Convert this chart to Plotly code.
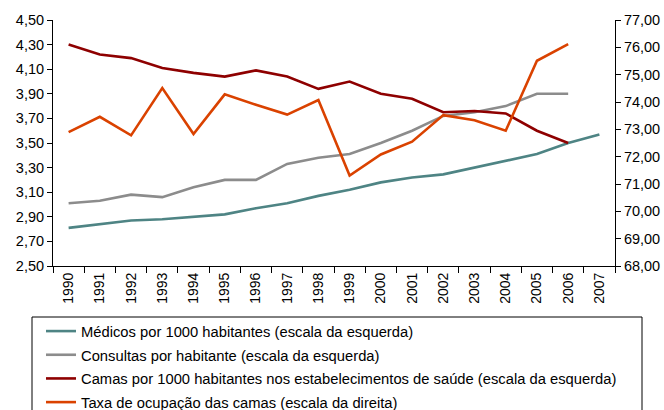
import plotly.graph_objects as go

years = [str(y) for y in range(1990, 2008)]
medicos = [2.81, 2.84, 2.87, 2.88, 2.90, 2.92, 2.97, 3.01, 3.07, 3.12, 3.18, 3.22, 3.245, 3.30, 3.35, 3.41, 3.50, 3.57]
consultas = [3.01, 3.03, 3.08, 3.06, 3.14, 3.20, 3.20, 3.33, 3.38, 3.41, 3.50, 3.60, 3.72, 3.75, 3.80, 3.90, 3.90, None]
camas = [4.30, 4.22, 4.19, 4.11, 4.07, 4.04, 4.09, 4.04, 3.94, 4.00, 3.90, 3.86, 3.75, 3.76, 3.74, 3.60, 3.50, None]
taxa = [72.90, 73.46, 72.78, 74.51, 72.83, 74.28, 73.90, 73.54, 74.07, 71.31, 72.08, 72.55, 73.52, 73.33, 72.95, 75.51, 76.12, None]

names = [
    "Médicos por 1000 habitantes (escala da esquerda)",
    "Consultas por habitante (escala da esquerda)",
    "Camas por 1000 habitantes nos estabelecimentos de saúde (escala da esquerda)",
    "Taxa de ocupação das camas (escala da direita)",
]
colors = ["#4E8484", "#8C8C8C", "#8E0000", "#DA4200"]

fig = go.Figure()
series = [(medicos, "y"), (consultas, "y"), (camas, "y"), (taxa, "y2")]
for i, (vals, ax) in enumerate(series):
    fig.add_trace(go.Scatter(
        x=years, y=vals, name=names[i], mode="lines", yaxis=ax,
        line=dict(color=colors[i], width=2.6), legendgroup=str(i),
    ))

fam = "Liberation Sans, Arial, sans-serif"
axfont = dict(family=fam, size=14.5, color="#000000")
xfont = dict(family=fam, size=14, color="#000000")
lgfont = dict(family=fam, size=14.75, color="#000000")

W, H = 664, 410
L, T = 53, 20
PW, PH = 562, 246
R, B = W - L - PW, H - T - PH
BOT = T + PH  # 266

fig.update_layout(
    width=W, height=H,
    margin=dict(l=L, r=R, t=T, b=B, autoexpand=False),
    paper_bgcolor="white", plot_bgcolor="white",
    font=axfont,
    separators=",.",
    showlegend=True,
    hovermode=False,
    legend=dict(
        x=(41 - L) / PW, y=-(315 - BOT) / PH, xanchor="left", yanchor="top",
        orientation="v", tracegroupgap=1.5, borderwidth=0,
        font=lgfont, bgcolor="rgba(0,0,0,0)",
    ),
    xaxis=dict(
        type="category", range=[-0.5, len(years) - 0.5],
        showgrid=False, showline=True, linecolor="black", linewidth=1,
        ticks="outside", tickson="boundaries", ticklen=6, tickcolor="black",
        tickangle=-90, tickfont=xfont, zeroline=False, automargin=False,
    ),
    yaxis=dict(
        range=[2.5, 4.5], dtick=0.2, tick0=2.5, tickformat=".2f",
        showgrid=False, showline=True, linecolor="black", linewidth=1,
        ticks="outside", ticklen=5, tickcolor="black", zeroline=False, tickfont=axfont,
        automargin=False,
    ),
    yaxis2=dict(
        range=[68, 77], dtick=1, tickformat=".2f", overlaying="y", side="right",
        showgrid=False, showline=True, linecolor="black", linewidth=1,
        ticks="outside", ticklen=5, tickcolor="black", zeroline=False, tickfont=axfont,
        automargin=False,
    ),
    shapes=[dict(
        type="rect", xref="paper", yref="paper",
        x0=(32 - L) / PW, x1=(642 - L) / PW,
        y0=(BOT - 317) / PH, y1=(BOT - 430) / PH,
        line=dict(color="black", width=1), fillcolor="rgba(0,0,0,0)",
    )],
)

fig.write_html(
    "out.html",
    config={"displayModeBar": False},
    post_script="document.body.style.margin='0';document.body.style.overflow='hidden';",
)
